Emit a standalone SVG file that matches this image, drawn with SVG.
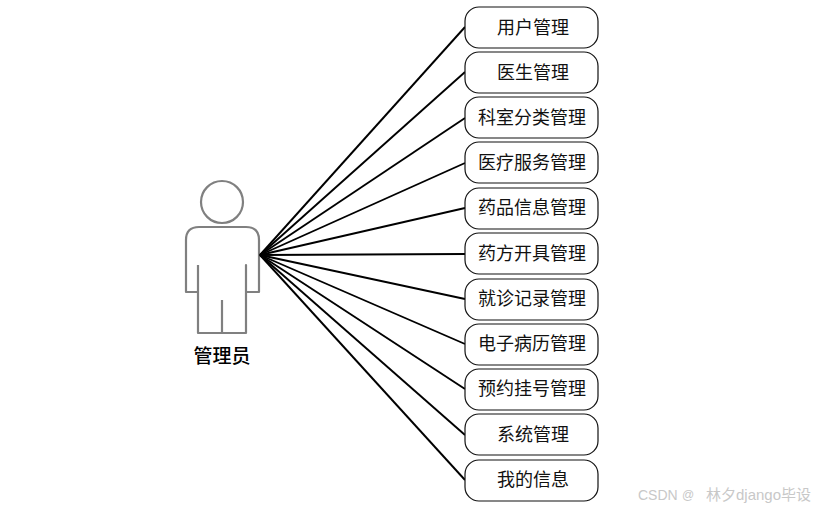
<svg xmlns="http://www.w3.org/2000/svg" width="830" height="510" viewBox="0 0 830 510">
<style>
.box{fill:#fff;stroke:#111;stroke-width:1.2}
.lbl{font-family:"Noto Sans CJK SC","Liberation Serif",sans-serif;font-size:18px;text-anchor:middle;fill:#111}
.conn{stroke:#000;stroke-width:1.9;fill:none}
.fig{stroke:#808080;stroke-width:2.2;fill:#fff;stroke-linejoin:round}
.wm{font-family:"Liberation Sans","Noto Sans CJK SC",sans-serif;fill:#c8c8c8}
</style>
<rect width="830" height="510" fill="#fff"/>
<g id="actor">
<circle class="fig" cx="222" cy="202" r="21"/>
<path class="fig" d="M198 265V292H186V240Q186 227 199 227H246Q259 227 259 240V292H246V265V333H198V265"/>
<path class="fig" d="M222 300V333" fill="none"/>
<text x="222" y="363" font-family="'Noto Sans CJK SC',sans-serif" font-size="19" font-weight="500" text-anchor="middle" fill="#000">管理员</text>
</g>
<g id="connectors">
<line class="conn" x1="260" y1="255" x2="465" y2="27"/>
<line class="conn" x1="260" y1="255" x2="465" y2="72"/>
<line class="conn" x1="260" y1="255" x2="465" y2="118"/>
<line class="conn" x1="260" y1="255" x2="465" y2="163"/>
<line class="conn" x1="260" y1="255" x2="465" y2="208"/>
<line class="conn" x1="260" y1="255" x2="465" y2="254"/>
<line class="conn" x1="260" y1="255" x2="465" y2="299"/>
<line class="conn" x1="260" y1="255" x2="465" y2="344"/>
<line class="conn" x1="260" y1="255" x2="465" y2="389"/>
<line class="conn" x1="260" y1="255" x2="465" y2="435"/>
<line class="conn" x1="260" y1="255" x2="465" y2="480"/>
</g>
<g id="n1"><rect class="box" x="465" y="7" width="133" height="41" rx="14"/><text class="lbl" x="533" y="34">用户管理</text></g>
<g id="n2"><rect class="box" x="465" y="52" width="133" height="41" rx="14"/><text class="lbl" x="533" y="79">医生管理</text></g>
<g id="n3"><rect class="box" x="465" y="97" width="133" height="41" rx="14"/><text class="lbl" x="532" y="124">科室分类管理</text></g>
<g id="n4"><rect class="box" x="465" y="142" width="133" height="41" rx="14"/><text class="lbl" x="532" y="169">医疗服务管理</text></g>
<g id="n5"><rect class="box" x="465" y="188" width="133" height="41" rx="14"/><text class="lbl" x="532" y="214">药品信息管理</text></g>
<g id="n6"><rect class="box" x="465" y="233" width="133" height="41" rx="14"/><text class="lbl" x="532" y="260">药方开具管理</text></g>
<g id="n7"><rect class="box" x="465" y="279" width="133" height="41" rx="14"/><text class="lbl" x="532" y="305">就诊记录管理</text></g>
<g id="n8"><rect class="box" x="465" y="324" width="133" height="41" rx="14"/><text class="lbl" x="532" y="350">电子病历管理</text></g>
<g id="n9"><rect class="box" x="465" y="369" width="133" height="41" rx="14"/><text class="lbl" x="532" y="395">预约挂号管理</text></g>
<g id="n10"><rect class="box" x="465" y="414" width="133" height="41" rx="14"/><text class="lbl" x="533" y="441">系统管理</text></g>
<g id="n11"><rect class="box" x="465" y="460" width="133" height="41" rx="14"/><text class="lbl" x="533" y="486">我的信息</text></g>
<text class="wm" x="638" y="500" font-size="14">CSDN</text>
<text class="wm" x="682" y="499" font-size="12">@</text>
<text class="wm" x="706" y="500" font-size="15">林夕django毕设</text>
</svg>
